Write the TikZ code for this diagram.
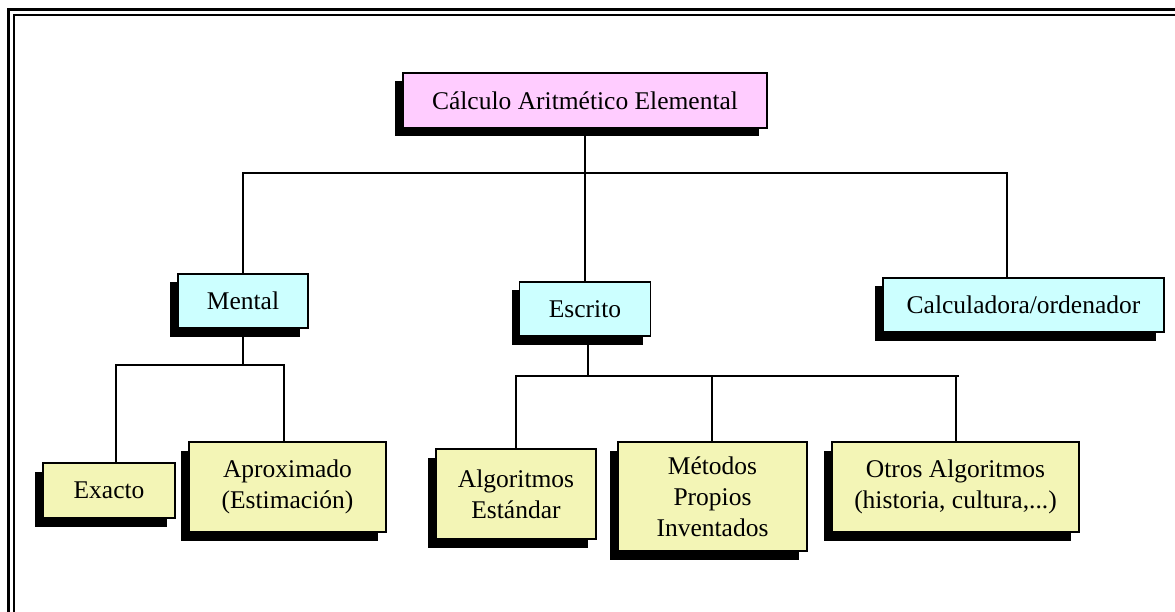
\documentclass[tikz,border=0pt]{standalone}
\usepackage{fontspec}
\setmainfont{Liberation Serif}
\usetikzlibrary{shadows}
\definecolor{pinkbox}{RGB}{255,204,255}
\definecolor{cyanbox}{RGB}{204,255,255}
\definecolor{yellowbox}{RGB}{243,245,182}
\begin{document}
\begin{tikzpicture}[x=1pt,y=-1pt,
  box/.style={draw=black,line width=1.5pt,inner sep=0pt,align=center,
    font=\fontsize{25.5}{31}\selectfont,
    drop shadow={shadow xshift=-8pt,shadow yshift=-8.5pt,fill=black,opacity=1}},
  conn/.style={line width=1.8pt,black}]
\useasboundingbox (0,0) rectangle (1175,612);
\clip (0,0) rectangle (1175,612);
% frame
\draw[line width=3pt] (8.5,9.5) rectangle (1200,640);
\draw[line width=2pt] (14,15) rectangle (1194,634);
% nodes
\node[box,fill=pinkbox,minimum width=364pt,minimum height=55pt] (root) at (585,100.5) {Cálculo Aritmético Elemental};
\node[box,fill=cyanbox,minimum width=130pt,minimum height=54pt] (mental) at (243,301) {Mental};
\node[box,fill=cyanbox,minimum width=131pt,minimum height=54pt] (escrito) at (585,309) {Escrito};
\node[box,fill=cyanbox,minimum width=281pt,minimum height=54pt] (calc) at (1023.5,305) {Calculadora/ordenador};
\node[box,fill=yellowbox,minimum width=132pt,minimum height=55pt] (exacto) at (109,490.5) {Exacto};
\node[box,fill=yellowbox,minimum width=197pt,minimum height=90pt] (aprox) at (287.5,487) {Aproximado\\(Estimación)};
\node[box,fill=yellowbox,minimum width=160pt,minimum height=90pt] (algo) at (516,494) {Algoritmos\\Estándar};
\node[box,fill=yellowbox,minimum width=189pt,minimum height=109pt] (metodos) at (712.5,496.5) {Métodos\\Propios\\Inventados};
\node[box,fill=yellowbox,minimum width=247pt,minimum height=90pt] (otros) at (955.5,487) {Otros Algoritmos\\(historia, cultura,...)};
% connector coordinates
\coordinate (calcin) at (1007,278);
\coordinate (exin) at (116,463);
\coordinate (apin) at (284,442);
\coordinate (metin) at (712,442);
\coordinate (otin) at (956,442);
\coordinate (bar1) at (585,173);
\coordinate (bar2) at (243,365);
\coordinate (bar3) at (588,376);
\coordinate (otrosend) at (959,376);
% connectors
\draw[conn] (root.south) -- (escrito.north);
\draw[conn] (mental.north) |- (bar1) -| (calcin);
\draw[conn] (mental.south) -- (bar2);
\draw[conn] (exin) |- (bar2) -| (apin);
\draw[conn] (escrito.south -| bar3) -- (bar3);
\draw[conn] (algo.north) |- (otrosend);
\draw[conn] (metin) -- (metin |- bar3);
\draw[conn] (otin) -- (otin |- bar3);
\end{tikzpicture}
\end{document}
